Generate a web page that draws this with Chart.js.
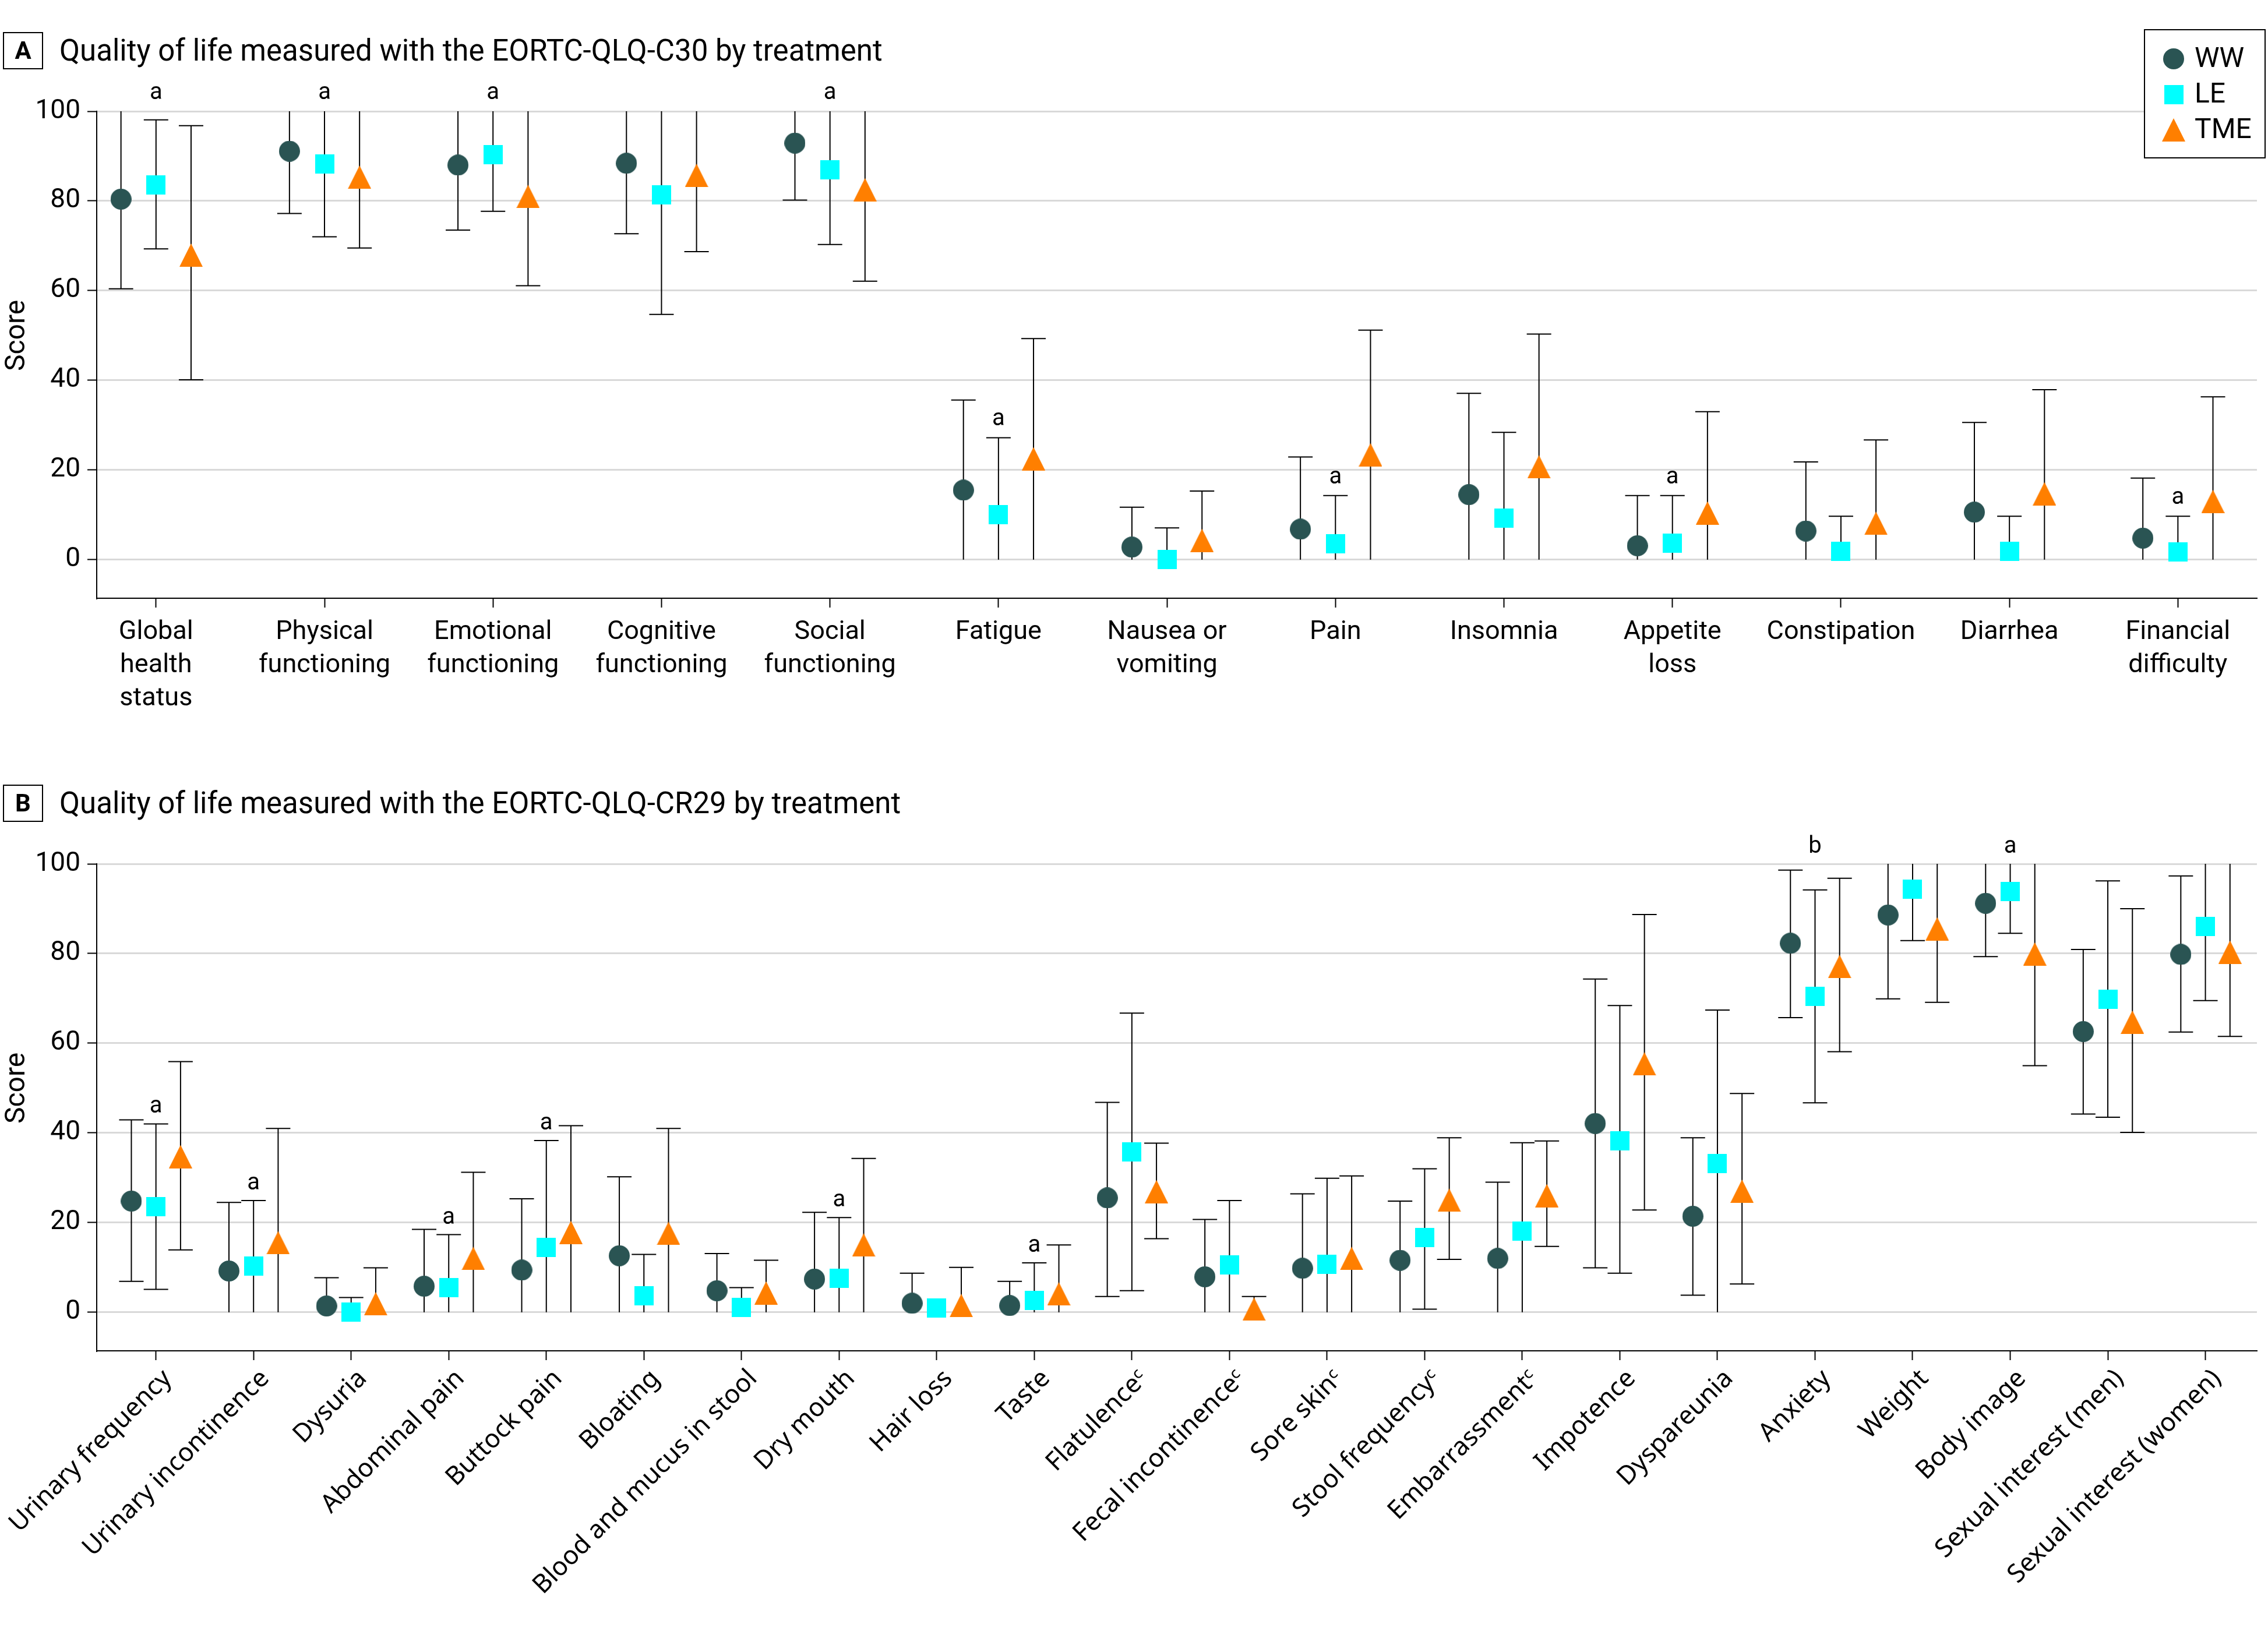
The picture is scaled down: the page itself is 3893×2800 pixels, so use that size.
<!DOCTYPE html>
<html><head><meta charset="utf-8">
<script src="https://cdn.jsdelivr.net/npm/chart.js@4.4.1/dist/chart.umd.min.js"></script>
<style>
html,body{margin:0;padding:0;background:#fff;}
body{width:3893px;height:2800px;position:relative;overflow:hidden;font-family:Roboto,sans-serif;color:#000;}
canvas{position:absolute;left:0;}
#cA{top:0;} #cB{top:1290px;}
.ptitle{position:absolute;left:0;height:64px;width:1700px;z-index:2;}
.pbox{position:absolute;left:5px;top:0;width:65px;height:60px;border:2px solid #000;font:bold 42px Roboto;line-height:60px;text-align:center;}
.ptext{position:absolute;left:102px;top:0;font:51px Roboto;line-height:64px;white-space:nowrap;}
</style></head>
<body>
<div class="ptitle" style="top:55px"><div class="pbox">A</div><div class="ptext">Quality of life measured with the EORTC-QLQ-C30 by treatment</div></div>
<div class="ptitle" style="top:1347px"><div class="pbox">B</div><div class="ptext">Quality of life measured with the EORTC-QLQ-CR29 by treatment</div></div>
<canvas id="cA" width="3893" height="1290"></canvas>
<canvas id="cB" width="3893" height="1510"></canvas>
<script>
// ---------- DATA ----------
const seriesNames = ['WW', 'LE', 'TME'];
const yTicks = [0, 20, 40, 60, 80, 100];

// Panel A: EORTC-QLQ-C30
const categoriesA = ['Global\nhealth\nstatus', 'Physical\nfunctioning', 'Emotional\nfunctioning', 'Cognitive\nfunctioning', 'Social\nfunctioning', 'Fatigue', 'Nausea or\nvomiting', 'Pain', 'Insomnia', 'Appetite\nloss', 'Constipation', 'Diarrhea', 'Financial\ndifficulty'];
const wwA    = [80.4, 91.1, 88.0, 88.4, 92.9, 15.5, 2.8, 6.8, 14.5, 3.1, 6.4, 10.6, 4.8];
const wwA_lo = [60.4, 77.2, 73.5, 72.7, 80.2, 0, 0, 0, 0, 0, 0, 0, 0];
const wwA_hi = [100, 100, 100, 100, 100, 35.6, 11.7, 22.9, 37.1, 14.3, 21.8, 30.6, 18.2];
const leA    = [83.6, 88.3, 90.3, 81.4, 86.9, 10.0, 0, 3.6, 9.2, 3.7, 1.8, 1.9, 1.7];
const leA_lo = [69.3, 72.0, 77.7, 54.7, 70.3, 0, 0, 0, 0, 0, 0, 0, 0];
const leA_hi = [98.1, 100, 100, 100, 100, 27.2, 7.1, 14.3, 28.4, 14.3, 9.7, 9.7, 9.7];
const tmeA    = [67.9, 85.3, 81.0, 85.7, 82.5, 22.5, 4.3, 23.4, 20.7, 10.4, 8.1, 14.7, 13.0];
const tmeA_lo = [40.1, 69.5, 61.1, 68.7, 62.1, 0, 0, 0, 0, 0, 0, 0, 0];
const tmeA_hi = [96.8, 100, 100, 100, 100, 49.3, 15.3, 51.2, 50.3, 33.0, 26.7, 37.9, 36.3];
const notesA  = ['a', 'a', 'a', '', 'a', 'a', '', 'a', '', 'a', '', '', 'a'];

// Panel B: EORTC-QLQ-CR29
const categoriesB = ['Urinary frequency', 'Urinary incontinence', 'Dysuria', 'Abdominal pain', 'Buttock pain', 'Bloating', 'Blood and mucus in stool', 'Dry mouth', 'Hair loss', 'Taste', 'Flatulence\u1D9C', 'Fecal incontinence\u1D9C', 'Sore skin\u1D9C', 'Stool frequency\u1D9C', 'Embarrassment\u1D9C', 'Impotence', 'Dyspareunia', 'Anxiety', 'Weight', 'Body image', 'Sexual interest (men)', 'Sexual interest (women)'];
const wwB    = [24.8, 9.2, 1.4, 5.8, 9.4, 12.6, 4.8, 7.4, 2.0, 1.5, 25.5, 7.9, 9.8, 11.6, 12.0, 42.1, 21.4, 82.3, 88.6, 91.2, 62.6, 79.8];
const wwB_lo = [6.9, 0, 0, 0, 0, 0, 0, 0, 0, 0, 3.5, 0, 0, 0, 0, 9.9, 3.8, 65.7, 69.9, 79.3, 44.2, 62.5];
const wwB_hi = [42.9, 24.5, 7.7, 18.5, 25.3, 30.2, 13.1, 22.3, 8.7, 6.9, 46.8, 20.7, 26.4, 24.8, 29.0, 74.3, 38.9, 98.6, 100, 100, 80.9, 97.3];
const leB    = [23.5, 10.3, 0, 5.5, 14.4, 3.7, 1.1, 7.6, 0.9, 2.7, 35.7, 10.5, 10.7, 16.7, 18.1, 38.2, 33.1, 70.5, 94.4, 93.8, 69.8, 86.1];
const leB_lo = [5.1, 0, 0, 0, 0, 0, 0, 0, 0, 0, 4.8, 0, 0, 0.7, 0, 8.7, 0, 46.7, 82.9, 84.5, 43.5, 69.5];
const leB_hi = [42.0, 24.9, 3.3, 17.3, 38.3, 12.9, 5.5, 21.1, 0.9, 11.0, 66.7, 24.9, 29.9, 32.0, 37.8, 68.4, 67.4, 94.2, 100, 100, 96.2, 100];
const tmeB    = [34.7, 15.5, 1.9, 12.0, 17.8, 17.6, 4.3, 15.0, 1.5, 4.1, 26.9, 0.7, 12.0, 25.0, 26.0, 55.4, 27.0, 77.1, 85.5, 79.9, 64.7, 80.3];
const tmeB_lo = [13.9, 0, 0, 0, 0, 0, 0, 0, 0, 0, 16.4, 0, 0, 11.8, 14.7, 22.8, 6.3, 58.1, 69.1, 55.0, 40.1, 61.5];
const tmeB_hi = [55.9, 41.0, 9.9, 31.2, 41.6, 41.0, 11.6, 34.3, 10.0, 15.0, 37.7, 3.5, 30.4, 38.9, 38.2, 88.7, 48.8, 96.8, 100, 100, 90.0, 100];
const notesB  = ['a', 'a', '', 'a', 'a', '', '', 'a', '', 'a', '', '', '', '', '', '', '', 'b', '', 'a', '', ''];

// ---------- STYLE ----------
const COLORS = ['#2a5453', '#00ffff', '#ff7f00'];
const SHAPES = ['circle', 'square', 'triangle'];
const SIZES = [[36, 36], [33, 33], [40, 40]];

function makeMarker(shape, color, w, h) {
  const c = document.createElement('canvas');
  c.width = w; c.height = h;
  const g = c.getContext('2d');
  g.fillStyle = color;
  g.beginPath();
  if (shape === 'circle') g.ellipse(w / 2, h / 2, w / 2, h / 2, 0, 0, Math.PI * 2);
  else if (shape === 'square') g.rect(0, 0, w, h);
  else { g.moveTo(w / 2, 0); g.lineTo(w, h); g.lineTo(0, h); g.closePath(); }
  g.fill();
  return c;
}

const errorBars = {
  id: 'errorBars',
  beforeDatasetsDraw(chart) {
    const {ctx, scales: {x, y}} = chart;
    ctx.save();
    ctx.strokeStyle = '#000';
    ctx.lineWidth = 2;
    chart.data.datasets.forEach(ds => {
      ds.lo.forEach((lo, i) => {
        const hi = ds.hi[i];
        const px = x.getPixelForValue(i + ds.xOffset);
        const a = y.getPixelForValue(lo), b = y.getPixelForValue(hi);
        ctx.beginPath(); ctx.moveTo(px, a); ctx.lineTo(px, b); ctx.stroke();
        const cw = 21;
        if (lo > 0.3) { ctx.beginPath(); ctx.moveTo(px - cw, a); ctx.lineTo(px + cw, a); ctx.stroke(); }
        if (hi < 99.7 && hi - lo > 1) { ctx.beginPath(); ctx.moveTo(px - cw, b); ctx.lineTo(px + cw, b); ctx.stroke(); }
      });
    });
    ctx.restore();
  }
};

const notesPlugin = {
  id: 'notes',
  afterDatasetsDraw(chart, args, opts) {
    const {ctx, scales: {x, y}} = chart;
    const ref = chart.data.datasets[1];
    ctx.save();
    ctx.fillStyle = '#000';
    ctx.font = '40px Roboto';
    ctx.textAlign = 'center';
    ctx.textBaseline = 'middle';
    opts.notes.forEach((t, i) => {
      if (!t) return;
      const hv = ref.hi[i] >= 90 ? 100 : ref.hi[i];
      ctx.fillText(t, x.getPixelForValue(i + ref.xOffset), y.getPixelForValue(hv) - opts.gap);
    });
    ctx.restore();
  }
};

const yTitle = {
  id: 'yTitle',
  afterDraw(chart, args, opts) {
    const {ctx, scales: {y}} = chart;
    ctx.save();
    ctx.fillStyle = '#000';
    ctx.font = '48px Roboto';
    ctx.textAlign = 'center';
    ctx.textBaseline = 'middle';
    ctx.translate(opts.x, (y.getPixelForValue(0) + y.getPixelForValue(100)) / 2);
    ctx.rotate(-Math.PI / 2);
    ctx.fillText(opts.text, 0, 0);
    ctx.restore();
  }
};

const boxLegend = {
  id: 'boxLegend',
  afterDraw(chart, args, opts) {
    if (!opts.show) return;
    const {ctx} = chart;
    const L = 3681, T = 51, W = 207, H = 220;
    ctx.save();
    ctx.fillStyle = '#fff';
    ctx.fillRect(L, T, W, H);
    ctx.strokeStyle = '#000';
    ctx.lineWidth = 2;
    ctx.strokeRect(L, T, W, H);
    ctx.font = '48px Roboto';
    ctx.fillStyle = '#000';
    ctx.textAlign = 'left';
    ctx.textBaseline = 'middle';
    chart.data.datasets.forEach((ds, k) => {
      const cy = T + 50 + k * 61;
      const img = ds.pointStyle;
      ctx.drawImage(img, L + 50 - img.width / 2, cy - img.height / 2);
      ctx.fillText(ds.label, L + 86, cy + 2);
    });
    ctx.restore();
  }
};

function makeDatasets(vals, los, his, offs) {
  return vals.map((v, k) => ({
    label: seriesNames[k],
    data: v.map((val, i) => ({x: i + offs[k], y: val})),
    lo: los[k], hi: his[k], xOffset: offs[k],
    pointStyle: makeMarker(SHAPES[k], COLORS[k], SIZES[k][0], SIZES[k][1]),
    pointRadius: 18, pointHoverRadius: 18,
    backgroundColor: COLORS[k], borderColor: COLORS[k],
    showLine: false, clip: false
  }));
}

function makeChart(id, o) {
  return new Chart(document.getElementById(id), {
    type: 'scatter',
    data: {datasets: makeDatasets(o.vals, o.los, o.his, o.offs)},
    plugins: [errorBars, notesPlugin, yTitle, boxLegend],
    options: {
      responsive: false, animation: false, devicePixelRatio: 1, events: [],
      layout: {padding: {top: o.top, right: o.right, bottom: 0, left: 0}},
      plugins: {
        legend: {display: false}, tooltip: {enabled: false},
        notes: {notes: o.notes, gap: o.gap},
        yTitle: {text: 'Score', x: 30},
        boxLegend: {show: o.legend}
      },
      scales: {
        x: {
          type: 'linear', min: o.xmin, max: o.xmax,
          afterBuildTicks: s => { s.ticks = o.cats.map((c, i) => ({value: i})); },
          afterFit: s => { s.height = o.xh; s.paddingLeft = 0; s.paddingRight = 0; },
          grid: {drawOnChartArea: false, drawTicks: true, tickLength: 16, tickColor: '#000', tickWidth: 2},
          border: {display: true, color: '#000', width: 2},
          ticks: {
            autoSkip: false, minRotation: o.rot, maxRotation: o.rot, padding: o.tpad, labelOffset: o.loff,
            color: '#000', font: o.xfont,
            callback: (v, i) => o.rot ? o.cats[i] : o.cats[i].split('\n')
          }
        },
        y: {
          type: 'linear', min: -8.6, max: 100,
          afterBuildTicks: s => { s.ticks = yTicks.map(v => ({value: v})); },
          afterFit: s => { s.width = 166; s.paddingTop = 0; s.paddingBottom = 0; },
          grid: {color: '#d9d9d9', lineWidth: 3, drawTicks: true, tickLength: 16, tickColor: '#000', tickWidth: 2},
          border: {display: true, color: '#000', width: 2},
          ticks: {padding: 12, color: '#000', font: {family: 'Roboto', size: 46}, callback: v => String(v)}
        }
      }
    }
  });
}

function build() {
  Chart.defaults.font.family = 'Roboto';
  Chart.defaults.color = '#000';
  makeChart('cA', {
    vals: [wwA, leA, tmeA], los: [wwA_lo, leA_lo, tmeA_lo], his: [wwA_hi, leA_hi, tmeA_hi],
    offs: [-0.208, 0, 0.208], cats: categoriesA, notes: notesA, gap: 31,
    top: 191, right: 13, xh: 263, xmin: -0.352, xmax: 12.469, rot: 0, tpad: 14, loff: 0,
    xfont: {family: 'Roboto', size: 45, lineHeight: 1.27}, legend: true
  });
  makeChart('cB', {
    vals: [wwB, leB, tmeB], los: [wwB_lo, leB_lo, tmeB_lo], his: [wwB_hi, leB_hi, tmeB_hi],
    offs: [-0.252, 0, 0.252], cats: categoriesB, notes: notesB, gap: 29,
    top: 193, right: 6, xh: 481, xmin: -0.607, xmax: 21.528, rot: 45, tpad: 6, loff: 20,
    xfont: {family: "'Noto Sans'", size: 44, lineHeight: 1.2}, legend: false
  });
}
Promise.all([document.fonts.load('50px Roboto'), document.fonts.load('44px "Noto Sans"')]).then(build, build);
</script>
</body></html>
